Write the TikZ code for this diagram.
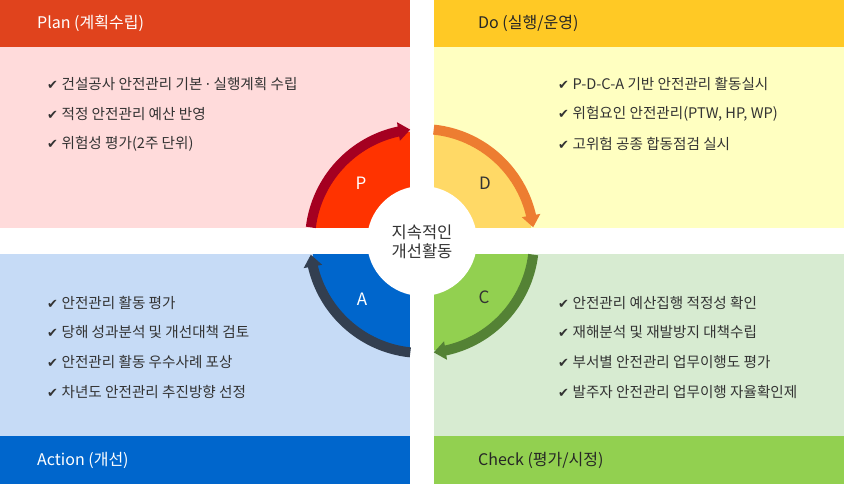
\documentclass[tikz,border=0pt]{standalone}
\usepackage{fontspec}
\setmainfont{Noto Sans CJK KR}
\newfontfamily\chkfont{DejaVu Sans}
\usepackage{tikz}
\usetikzlibrary{arrows.meta,bending,calc}

\definecolor{planhead}{HTML}{E0431D}
\definecolor{planbody}{HTML}{FFDBDB}
\definecolor{dohead}{HTML}{FFC925}
\definecolor{dobody}{HTML}{FFFFC1}
\definecolor{checkhead}{HTML}{92D050}
\definecolor{checkbody}{HTML}{D7EBD1}
\definecolor{acthead}{HTML}{0066CC}
\definecolor{actbody}{HTML}{C6DBF6}
\definecolor{psec}{HTML}{FF3300}
\definecolor{parc}{HTML}{A50021}
\definecolor{dsec}{HTML}{FFD966}
\definecolor{darc}{HTML}{ED7D31}
\definecolor{csec}{HTML}{92D050}
\definecolor{carc}{HTML}{548235}
\definecolor{asec}{HTML}{0066CC}
\definecolor{aarc}{HTML}{333F50}
\definecolor{txtgray}{HTML}{333333}

\newcommand{\chk}{{\chkfont\fontsize{13}{13}\selectfont ✔}\hspace{3.5pt}}

\tikzset{
  item/.style={anchor=west, inner sep=0pt, text=txtgray, font=\fontsize{14.6}{14.6}\selectfont},
  headtxt/.style={anchor=west, inner sep=0pt, font=\fontsize{16}{16}\selectfont},
  cycarrow/.style={line width=10pt, -{Triangle[length=12pt,width=18pt]}},
  letter/.style={inner sep=0pt, font=\fontsize{17}{17}\selectfont}
}

\begin{document}
\begin{tikzpicture}[x=1pt,y=1pt]
  \useasboundingbox (0,0) rectangle (844,-484);
  % 배경
  \fill[planbody] (0,0) rectangle (410,-228);
  \fill[dobody] (434,0) rectangle (844,-228);
  \fill[actbody] (0,-254) rectangle (410,-484);
  \fill[checkbody] (434,-254) rectangle (844,-484);
  \fill[planhead] (0,0) rectangle (410,-47);
  \fill[dohead] (434,0) rectangle (844,-47);
  \fill[acthead] (0,-436) rectangle (410,-484);
  \fill[checkhead] (434,-436) rectangle (844,-484);

  % 가운데 원
  \fill[psec] (422,-241) -- ($(422,-241)+(180:110)$) arc[start angle=180, end angle=90, radius=110] -- cycle;
  \fill[dsec] (422,-241) -- ($(422,-241)+(90:110)$) arc[start angle=90, end angle=0, radius=110] -- cycle;
  \fill[csec] (422,-241) -- ($(422,-241)+(0:110)$) arc[start angle=0, end angle=-90, radius=110] -- cycle;
  \fill[asec] (422,-241) -- ($(422,-241)+(-90:110)$) arc[start angle=-90, end angle=-180, radius=110] -- cycle;
  \fill[white] (410,-100) rectangle (434,-380);
  \fill[white] (290,-228) rectangle (560,-254);
  \fill[white] (422,-241) circle[radius=55];

  \draw[cycarrow, parc] ($(422,-241)+(173:112)$) arc[start angle=173, end angle=96, radius=112];
  \draw[cycarrow, darc] ($(422,-241)+(84:112)$) arc[start angle=84, end angle=7, radius=112];
  \draw[cycarrow, carc] ($(422,-241)+(-7:112)$) arc[start angle=-7, end angle=-84, radius=112];
  \draw[cycarrow, aarc] ($(422,-241)+(-96:112)$) arc[start angle=-96, end angle=-173, radius=112];

  \node[letter, text=white] (pl) at (361,-183) {P};
  \node[letter, text=txtgray] (dl) at (485,-183) {D};
  \node[letter, text=txtgray] (cl) at (484,-297) {C};
  \node[letter, text=white] (al) at (362,-299) {A};
  \node[align=center, text=txtgray, font=\fontsize{16.5}{19}\selectfont] (core) at (422,-242) {지속적인\\개선활동};

  % 제목
  \node[headtxt, text=white] (planttl) at (37,-23.5) {Plan (계획수립)};
  \node[headtxt, text=black!85] (dottl) at (478,-23.5) {Do (실행/운영)};
  \node[headtxt, text=white] (actttl) at (37,-460) {Action (개선)};
  \node[headtxt, text=black!85] (checkttl) at (478,-460) {Check (평가/시정)};

  \node[item] (p1) at (47,-84) {\chk 건설공사 안전관리 기본 {\chkfont ·} 실행계획 수립};
  \node[item] (p2) at (47,-114) {\chk 적정 안전관리 예산 반영};
  \node[item] (p3) at (47,-144) {\chk 위험성 평가(2주 단위)};

  \node[item] (d1) at (558,-84) {\chk P-D-C-A 기반 안전관리 활동실시};
  \node[item] (d2) at (558,-114) {\chk 위험요인 안전관리(PTW, HP, WP)};
  \node[item] (d3) at (558,-144) {\chk 고위험 공종 합동점검 실시};

  \node[item] (a1) at (47,-303) {\chk 안전관리 활동 평가};
  \node[item] (a2) at (47,-332) {\chk 당해 성과분석 및 개선대책 검토};
  \node[item] (a3) at (47,-362) {\chk 안전관리 활동 우수사례 포상};
  \node[item] (a4) at (47,-392) {\chk 차년도 안전관리 추진방향 선정};

  \node[item] (c1) at (558,-303) {\chk 안전관리 예산집행 적정성 확인};
  \node[item] (c2) at (558,-332) {\chk 재해분석 및 재발방지 대책수립};
  \node[item] (c3) at (558,-362) {\chk 부서별 안전관리 업무이행도 평가};
  \node[item] (c4) at (558,-392) {\chk 발주자 안전관리 업무이행 자율확인제};
\end{tikzpicture}
\end{document}
